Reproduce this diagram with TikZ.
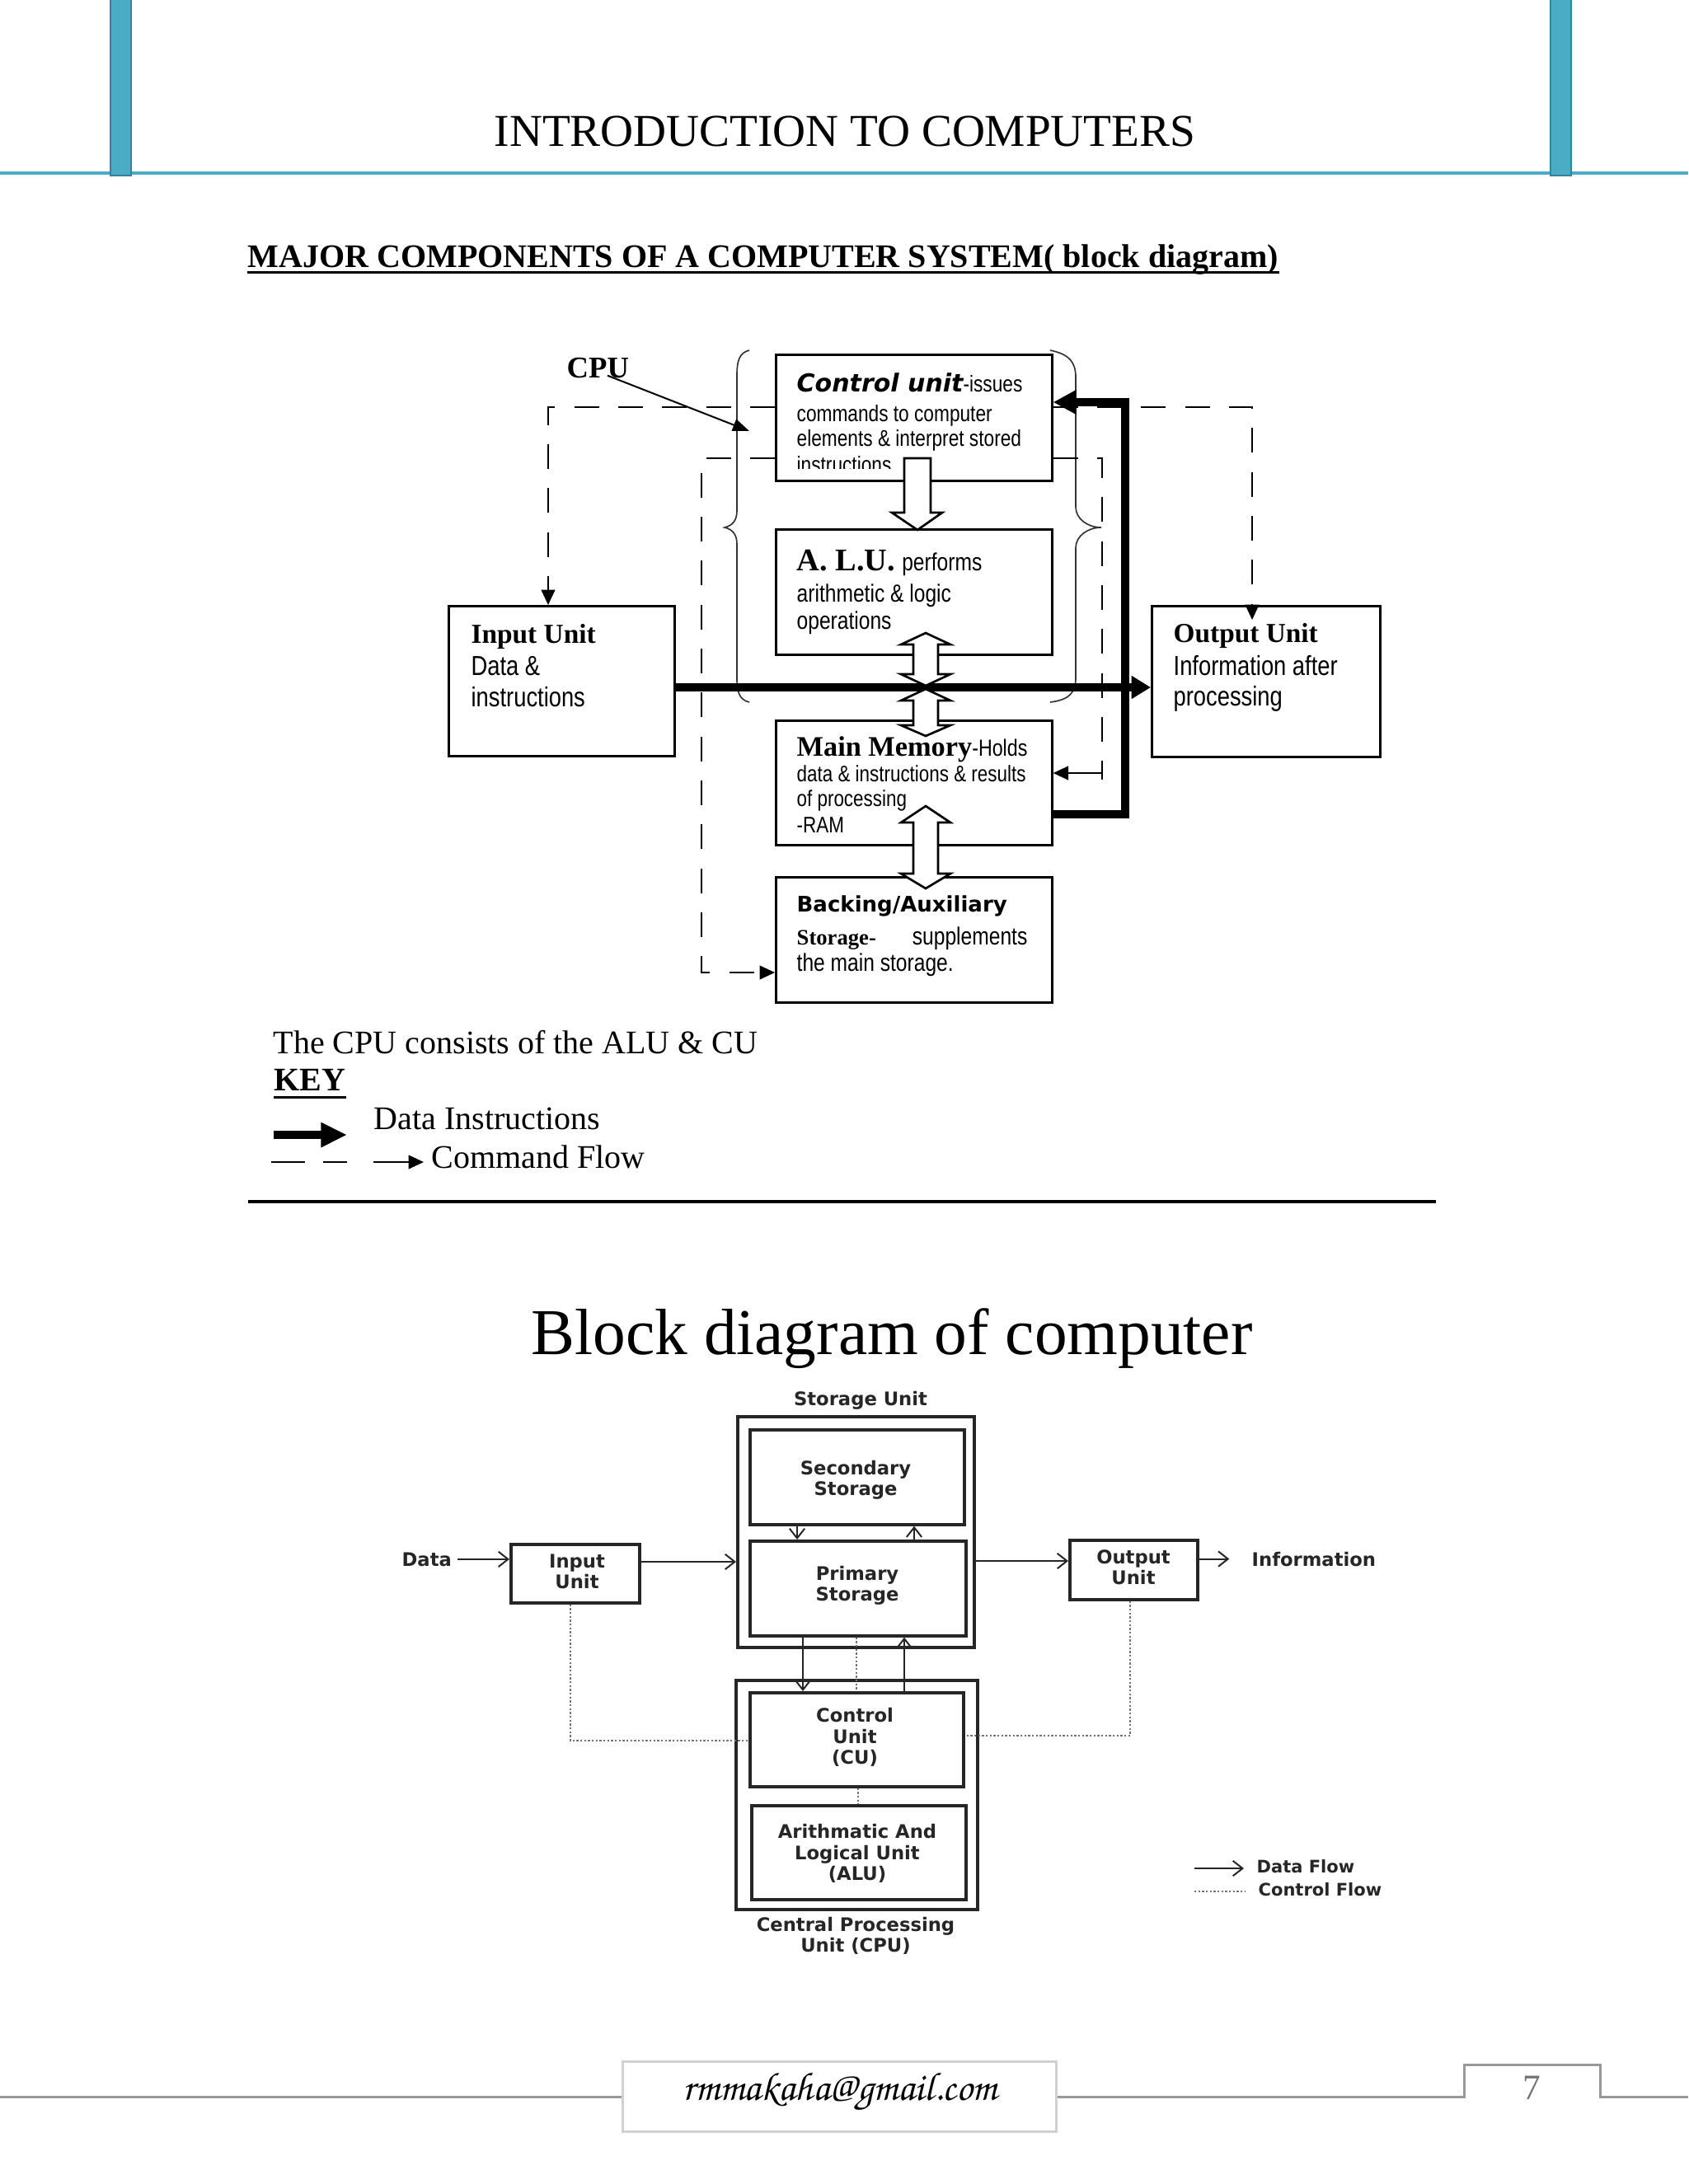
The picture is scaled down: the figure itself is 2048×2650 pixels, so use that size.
\documentclass[tikz,border=0pt]{standalone}
\usepackage[T1,TU]{fontenc}
\usepackage{fontspec}
\setmainfont{Liberation Serif}
\newfontfamily\ars{Liberation Sans}
\newfontfamily\nar[FakeStretch=0.82]{Liberation Sans}
\newfontfamily\dvs{DejaVu Sans}
\usetikzlibrary{arrows.meta}
\definecolor{hblue}{HTML}{4BACC6}
\definecolor{hbluedk}{HTML}{31849B}
\newcommand{\pxu}{0.10542mm}
\newcommand{\lowfont}{\dvs\bfseries\fontsize{6.8}{7.6}\selectfont}
\newcommand{\narf}[1]{\nar\fontsize{#1}{#1}\selectfont}
\newcommand{\dblarrow}[4]{\path[hollow] (1123,#1) -- (1153,#2) -- (1138,#2) -- (1138,#3) -- (1153,#3) -- (1123,#4) -- (1093,#3) -- (1108,#3) -- (1108,#2) -- (1093,#2) -- cycle;}
\tikzset{
  box/.style={draw, line width=0.8pt, inner sep=0, anchor=north west},
  txt/.style={inner sep=0, anchor=base west},
  cmd/.style={line width=0.6pt, dash pattern=on 9pt off 7pt},
  cmdtip/.style={-{Triangle[length=5.5pt,width=5pt]}},
  datal/.style={line width=3pt, line join=miter},
  hollow/.style={draw, fill=white, line width=0.8pt, line join=miter},
  lbox/.style={draw=black!85, line width=1.1pt, inner sep=0, anchor=north west},
  lflow/.style={draw=black!85, line width=0.6pt, -{Straight Barb[length=3.5pt,width=5.5pt]}},
  ctrl/.style={draw=black!55, line width=0.8pt, dash pattern=on 0.7pt off 0.7pt},
  ltxt/.style={inner sep=0, align=center, text=black!85, font=\lowfont},
}
\begin{document}
\begin{tikzpicture}[x=0.10542mm,y=-0.10542mm]
\useasboundingbox (0,0) rectangle (2048,2650);
\fill[white] (0,0) rectangle (2048,2650);

% ---------------- header
\draw[hblue, line width=1pt] (0,210) -- (2048,210);
\filldraw[fill=hblue, draw=hbluedk, line width=0.6pt] (134,-5) rectangle (159,213);
\filldraw[fill=hblue, draw=hbluedk, line width=0.6pt] (1881,-5) rectangle (1906,213);
\node[inner sep=0, anchor=base] (hdr) at (1025,177) {\fontsize{16.6}{20}\selectfont INTRODUCTION TO COMPUTERS};

\node[txt] (major) at (300,324) {\fontsize{12}{14}\selectfont\bfseries MAJOR COMPONENTS OF A COMPUTER SYSTEM( block diagram)};
\draw[line width=0.9pt] ([yshift=-1.8pt]major.base west) -- ([yshift=-1.8pt]major.base east);

% ---------------- upper diagram boxes
\node[box, minimum width=335*\pxu, minimum height=153*\pxu] (cu) at (940,429) {};
\node[box, minimum width=335*\pxu, minimum height=152*\pxu] (alu) at (940,641) {};
\node[box, minimum width=335*\pxu, minimum height=151*\pxu] (mm) at (940,873) {};
\node[box, minimum width=335*\pxu, minimum height=152*\pxu] (bk) at (940,1063) {};
\node[box, minimum width=274*\pxu, minimum height=182*\pxu] (inp) at (543,734) {};
\node[box, minimum width=277*\pxu, minimum height=183*\pxu] (outp) at (1396,734) {};

% braces
\draw[line width=0.5pt, black!80] (909,425) .. controls (896,428) and (894,440) .. (894,455) -- (894,620) .. controls (894,632) and (888,638) .. (879,640) .. controls (888,642) and (894,648) .. (894,660) -- (894,822) .. controls (894,838) and (896,849) .. (909,852);
\draw[line width=0.5pt, black!80] (1274,425) .. controls (1298,430) and (1305,440) .. (1305,458) -- (1305,615) .. controls (1305,630) and (1320,640) .. (1336,640) .. controls (1320,640) and (1305,650) .. (1305,665) -- (1305,822) .. controls (1305,840) and (1298,849) .. (1274,852);

% texts
\node[txt] (cpulbl) at (687,458) {\fontsize{11}{12}\selectfont\bfseries CPU};
\coordinate (cputip) at (909,523);
\draw[line width=0.6pt, -{Triangle[length=6pt,width=4.5pt]}] ([xshift=-8pt,yshift=1pt]cpulbl.south east) -- (cputip);

\node[txt] (cu1) at (966,475) {{\dvs\bfseries\itshape\fontsize{9}{10}\selectfont Control unit}{\narf{8.3}-issues}};
\node[txt] (cu2) at (966,511) {\narf{8.3}commands to computer};
\node[txt] (cu3) at (966,541) {\narf{8.3}elements \& interpret stored};
\begin{scope}
\clip (940,429) rectangle (1275,568);
\node[txt] (cu4) at (966,573) {\narf{8.3}instructions};
\end{scope}

\node[txt] (alu1) at (966,692) {{\fontsize{11.5}{12}\selectfont\bfseries A. L.U.} {\narf{9}performs}};
\node[txt] (alu2) at (966,730) {\narf{9}arithmetic \& logic};
\node[txt] (alu3) at (966,763) {\narf{9}operations};

\node[txt] (mm1) at (966,917) {{\fontsize{10.3}{12}\selectfont\bfseries Main Memory}{\narf{8.5}-Holds}};
\node[txt] (mm2) at (966,948) {\narf{8.2}data \& instructions \& results};
\node[txt] (mm3) at (966,978) {\narf{8.2}of processing};
\node[txt] (mm4) at (966,1010) {\narf{8.2}-RAM};

\node[txt] (bk1) at (966,1106) {\dvs\bfseries\fontsize{7.8}{9}\selectfont Backing/Auxiliary};
\node[txt] (bk2) at (966,1146) {\fontsize{8}{9}\selectfont\bfseries Storage-};
\node[inner sep=0, anchor=base east] (bk3) at (1247,1146) {\narf{9}supplements};
\node[txt] (bk4) at (966,1178) {\narf{9}the main storage.};

\node[txt] (in1) at (571,780) {\fontsize{10}{12}\selectfont\bfseries Input Unit};
\node[txt] (in2) at (571,819) {\narf{10}Data \&};
\node[txt] (in3) at (571,857) {\narf{10}instructions};

\node[txt] (out1) at (1423,779) {\fontsize{10}{12}\selectfont\bfseries Output Unit};
\node[txt] (out2) at (1423,819) {\narf{10}Information after};
\node[txt] (out3) at (1423,856) {\narf{10}processing};

% command flow (dashed)
\draw[cmd, cmdtip] (cu.west |- 0,494) -- (665,494) -- (inp.north -| 665,0);
\coordinate (outtip) at (1519,752);
\draw[cmd, cmdtip] (cu.east |- 0,494) -- (1519,494) -- (outtip);
\draw[cmd, cmdtip] (cu.west |- 0,556) -- (851,556) -- (851,1180) -- (bk.west |- 0,1180);
\draw[cmd] (cu.east |- 0,556) -- (1337,556) -- (1337,946);
\draw[line width=0.6pt, cmdtip] (1337,938) -- (mm.east |- 0,938);

% data flow (thick)
\draw[datal, -{Triangle[length=7pt,width=8pt]}] (inp.east |- 0,834) -- (outp.west |- 0,834);
\draw[datal, -{Triangle[length=8.4pt,width=8.4pt]}] (mm.east |- 0,988) -- (1365,988) -- (1365,488) -- (cu.east |- 0,488);

% hollow arrows
\path[hollow] (1097,556) -- (1129,556) -- (1129,622) -- (1143,622) -- (1113,643) -- (1082,622) -- (1097,622) -- cycle;
\dblarrow{768}{782}{818}{832}
\dblarrow{836}{850}{880}{893}
\dblarrow{978}{998}{1060}{1078}

% key
\node[txt] (cpucons) at (331,1278) {\fontsize{12}{14}\selectfont The CPU consists of the ALU \& CU};
\node[txt] (key) at (332,1323) {\fontsize{12}{14}\selectfont\bfseries KEY};
\draw[line width=0.9pt] ([yshift=-2.6pt]key.base west) -- ([yshift=-2.6pt]key.base east);
\draw[line width=3pt, -{Triangle[length=9.5pt,width=8.5pt]}] (332,1377) -- (421,1377);
\node[txt] (kd) at (453,1370) {\fontsize{12}{14}\selectfont Data Instructions};
\draw[line width=0.6pt] (329,1410) -- (370,1410) (392,1410) -- (421,1410);
\draw[line width=0.6pt, cmdtip] (453,1410) -- (514,1410);
\node[txt] (kc) at (523,1417) {\fontsize{12}{14}\selectfont Command Flow};

\draw[line width=1.2pt] (301,1458) -- (1742,1458);

% ---------------- lower diagram
\node[inner sep=0, anchor=base] (bdt) at (1082,1643) {\fontsize{23.8}{26}\selectfont Block diagram of computer};

\node[inner sep=0, anchor=base, text=black!85] (sulbl) at (1044,1705) {\lowfont Storage Unit};
\node[lbox, minimum width=287*\pxu, minimum height=280*\pxu] (su) at (893,1717) {};
\node[lbox, minimum width=260*\pxu, minimum height=115*\pxu] (sec) at (908,1733) {};
\node[lbox, minimum width=262*\pxu, minimum height=115*\pxu] (pri) at (908,1868) {};
\node[lbox, minimum width=293*\pxu, minimum height=278*\pxu] (cpub) at (891,2037) {};
\node[lbox, minimum width=259*\pxu, minimum height=114*\pxu] (cub) at (908,2052) {};
\node[lbox, minimum width=260*\pxu, minimum height=114*\pxu] (alub) at (910,2189) {};
\node[lbox, minimum width=156*\pxu, minimum height=71*\pxu] (inb) at (618,1872) {};
\node[lbox, minimum width=155*\pxu, minimum height=72*\pxu] (outb) at (1296,1867) {};

\node[ltxt] (sect) at (1038,1796) {Secondary\\Storage};
\node[ltxt] (prit) at (1040,1924) {Primary\\Storage};
\node[ltxt] (inbt) at (700,1907) {Input\\Unit};
\node[ltxt] (outbt) at (1375,1902) {Output\\Unit};
\node[ltxt] (cubt) at (1037,2108) {Control\\Unit\\(CU)};
\node[ltxt] (alubt) at (1040,2249) {Arithmatic And\\Logical Unit\\(ALU)};
\node[ltxt] (cpubt) at (1038,2349) {Central Processing\\Unit (CPU)};

\node[inner sep=0, anchor=base west, text=black!85] (data) at (487,1900) {\lowfont Data};
\node[inner sep=0, anchor=base west, text=black!85] (info) at (1518,1900) {\lowfont Information};

\draw[lflow] ([xshift=2pt]data.east) -- (inb.west |- data.east);
\draw[lflow] (inb.east |- 0,1895) -- (su.west |- 0,1895);
\draw[lflow] (su.east |- 0,1894) -- (outb.west |- 0,1894);
\draw[lflow] (outb.east |- info.west) -- ([xshift=-8pt]info.west);
\draw[lflow] (sec.south -| 967,0) -- (pri.north -| 967,0);
\draw[lflow] (pri.north -| 1109,0) -- (sec.south -| 1109,0);
\draw[lflow] (pri.south -| 974,0) -- (cub.north -| 974,0);
\draw[lflow] (cub.north -| 1097,0) -- (pri.south -| 1097,0);
\draw[ctrl] (pri.south -| 1039,0) -- (cub.north -| 1039,0);
\draw[ctrl] (cub.south -| 1041,0) -- (alub.north -| 1041,0);
\draw[ctrl] (inb.south -| 692,0) -- (692,2112) -- (cub.west |- 0,2112);
\draw[ctrl] (outb.south -| 1371,0) -- (1371,2106) -- (cub.east |- 0,2106);

% legend
\node[inner sep=0, anchor=base west, text=black!85] (dflow) at (1524,2272) {\dvs\bfseries\fontsize{6.3}{7}\selectfont Data Flow};
\node[inner sep=0, anchor=base west, text=black!85] (cflow) at (1526,2300) {\dvs\bfseries\fontsize{6.3}{7}\selectfont Control Flow};
\draw[lflow] (1449,2267) -- (1509,2267);
\draw[ctrl] (1449,2295) -- (1510,2295);

% ---------------- footer
\draw[black!40, line width=0.9pt] (0,2544) -- (754,2544);
\node[draw=black!18, line width=1pt, minimum width=526*\pxu, minimum height=85*\pxu, inner sep=0, anchor=north west] (ftbox) at (754,2500) {};
\draw[black!40, line width=0.9pt] (ftbox.east |- 0,2544) -- (1776,2544) -- (1776,2505) -- (1941,2505) -- (1941,2544) -- (2048,2544);
\node[inner sep=0, anchor=base] (email) at (1019,2548) {\fontencoding{T1}\fontfamily{pzc}\fontsize{14.5}{16}\selectfont rmmakaha@gmail.com};
\node[inner sep=0, anchor=base, text=black!55] (pgnum) at (1858,2547) {\fontsize{13}{15}\selectfont 7};
\end{tikzpicture}
\end{document}
